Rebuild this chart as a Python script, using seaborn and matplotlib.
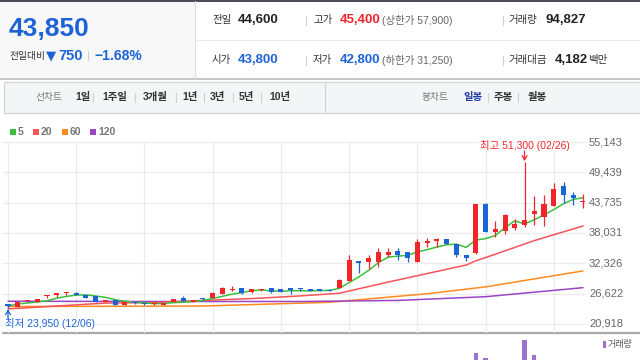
import numpy as np
import pandas as pd
import matplotlib
matplotlib.use("Agg")
import matplotlib.pyplot as plt
import matplotlib.transforms as mtransforms
from matplotlib.patches import Rectangle
import seaborn as sns

# ---------------- data ----------------
opens = [24650, 24100, 25150, 25050, 26100, 26350, 26700, 26700, 26350, 26200,
         25050, 25400, 24500, 24900, 24750, 24600, 24550, 25050, 25800, 25100,
         25650, 25850, 26550, 27250, 27650, 26850, 27250, 27650, 27450, 27650,
         27550, 27450, 27450, 27400, 27650, 29050, 32650, 32650, 32600, 33850,
         34650, 34400, 32650, 36100, 36500, 36850, 35950, 33900, 34200, 43500,
         38150, 38450, 39050, 39550, 41600, 41050, 43100, 46850, 45150, 43800]
highs = [24700, 25100, 25300, 25650, 26450, 26800, 26950, 26850, 26400, 26250,
         25500, 25450, 25050, 25000, 24850, 24950, 24900, 25700, 26150, 25450,
         25900, 26850, 27800, 28050, 27700, 27500, 27450, 27700, 27500, 27700,
         27750, 27500, 27500, 27450, 29450, 33900, 32850, 33800, 35150, 35200,
         35150, 34500, 36850, 37150, 37000, 36900, 36000, 33950, 43500, 43750,
         40350, 41600, 40650, 51300, 44950, 45100, 47450, 47600, 45700, 45400]
lows = [23950, 24050, 25100, 25000, 25800, 26000, 26450, 26300, 25800, 25050,
        25000, 24500, 24450, 24650, 24550, 24450, 24500, 25000, 25200, 25050,
        25400, 25800, 26500, 27200, 26600, 26800, 27200, 26800, 26900, 26550,
        27150, 27100, 27100, 27100, 27600, 29000, 30600, 31300, 31700, 33550,
        32950, 32650, 32600, 35450, 35450, 35900, 33550, 32800, 34150, 38250,
        37350, 37850, 38600, 39100, 39550, 39350, 43050, 43650, 43300, 42800]
closes = [24300, 25050, 25250, 25600, 26200, 26750, 26750, 26400, 25900, 25100,
          25450, 24550, 25000, 24800, 24650, 24700, 24850, 25650, 25250, 25400,
          25550, 26750, 27650, 27350, 26750, 27450, 27350, 26850, 26950, 27300,
          27450, 27150, 27150, 27150, 29200, 32950, 32450, 33250, 34400, 34450,
          33800, 33300, 36350, 36600, 36900, 35950, 33900, 33300, 43450, 38300,
          38800, 41400, 39650, 40500, 42250, 43450, 46300, 45150, 44600, 43850]
volumes = [180000, 210000, 150000, 170000, 190000, 220000, 160000, 150000, 170000, 200000,
           140000, 180000, 130000, 110000, 100000, 120000, 110000, 170000, 190000, 120000,
           130000, 220000, 300000, 250000, 200000, 160000, 120000, 170000, 130000, 150000,
           110000, 100000, 90000, 90000, 500000, 1200000, 700000, 500000, 700000, 500000,
           450000, 400000, 900000, 600000, 500000, 400000, 600000, 400000, 1850000, 1650000,
           900000, 1000000, 700000, 2400000, 1750000, 800000, 1100000, 700000, 300000, 94827]

ma20_idx = [0, 5, 10, 15, 20, 25, 30, 34, 39, 47, 48, 49, 54, 59]
ma20_val = [23750, 24300, 24850, 24950, 25350, 25700, 26200, 26700, 28800, 32000, 32800, 33400, 36600, 39350]
ma60_idx = [0, 20, 33, 43, 49, 54, 59]
ma60_val = [24200, 24300, 25000, 26600, 27900, 29400, 30900]
ma120_idx = [0, 15, 30, 40, 49, 59]
ma120_val = [25200, 25150, 25150, 25350, 26050, 27750]

y_ticks = [20918, 26622, 32326, 38031, 43735, 49439, 55143]
ma_names = ["5", "20", "60", "120"]
hi_date, lo_date = "02/26", "12/06"

price_now, change_abs, change_pct = "43,850", "750", "−1.68%"
prev_close, day_open, day_high, day_low = "44,600", "43,800", "45,400", "42,800"
upper_limit, lower_limit = "57,900", "31,250"
volume_today, value_today = "94,827", "4,182"
line_periods = ["1일", "1주일", "3개월", "1년", "3년", "5년", "10년"]
candle_periods = ["일봉", "주봉", "월봉"]

# ---------------- style ----------------
sns.set_theme(style="white")
plt.rcParams["font.family"] = ["Liberation Sans", "Noto Sans CJK KR", "DejaVu Sans"]

RED, BLUE = "#f0262b", "#1d63d8"
MA_COLORS = ["#3cbf3c", "#f4545a", "#ff8a1e", "#9b45c8"]
GRID = "#ebebeb"
W, H = 640, 360

fig = plt.figure(figsize=(6.4, 3.6), dpi=100)
fig.patch.set_facecolor("white")
bg = fig.add_axes([0, 0, 1, 1])
bg.set_xlim(0, W)
bg.set_ylim(H, 0)
bg.axis("off")


def px_ax(l, t, r, b):
    return fig.add_axes([l / W, 1 - b / H, (r - l) / W, (b - t) / H])


def sep(x, yc, h=10, color="#d0d0d0"):
    bg.plot([x, x], [yc - h / 2, yc + h / 2], color=color, lw=0.8)


# ---------------- header ----------------
bg.add_patch(Rectangle((0, 0), 195, 79, color="#f8f8f8", lw=0))
bg.plot([0, W], [0.7, 0.7], color="#474b57", lw=1.4)
bg.plot([0, W], [79, 79], color="#c6c6c6", lw=1.4)
bg.plot([195, 195], [1, 79], color="#dedede", lw=0.8)
bg.plot([195, W], [39.5, 39.5], color="#e8e8e8", lw=0.8)

bg.text(9, 29, price_now, fontsize=19, fontweight="bold", color=BLUE, va="center")
bg.text(10, 55.5, "전일대비", fontsize=7, color="#333333", va="center")
bg.text(45.5, 55.5, "▼", fontsize=9.5, color=BLUE, va="center", family=["DejaVu Sans"])
bg.text(58, 55.5, change_abs, fontsize=10.5, fontweight="bold", color=BLUE, va="center")
sep(88, 55.5, 9)
bg.text(94, 55.5, change_pct, fontsize=10, fontweight="bold", color=BLUE, va="center")

LBL = dict(fontsize=7.5, color="#333333", va="center")
VAL = dict(fontsize=9.5, fontweight="bold", va="center")
for yc, l1, v1, c1, l2, v2, c2, sub, l3, v3 in [
    (20, "전일", prev_close, "#222222", "고가", day_high, RED, "(상한가 " + upper_limit + ")", "거래량", volume_today),
    (60, "시가", day_open, BLUE, "저가", day_low, BLUE, "(하한가 " + lower_limit + ")", "거래대금", value_today),
]:
    bg.text(212, yc, l1, **LBL)
    bg.text(238, yc, v1, color=c1, **VAL)
    sep(306, yc, 9)
    bg.text(313, yc, l2, **LBL)
    bg.text(340, yc, v2, color=c2, **VAL)
    bg.text(382, yc, sub, fontsize=7.5, color="#666666", va="center")
    sep(503, yc, 9)
    bg.text(508, yc, l3, **LBL)
    bg.text(545 if l3 == "거래량" else 555, yc, v3, color="#222222", **VAL)
bg.text(588, 60, "백만", **LBL)

# ---------------- toolbar ----------------
bg.add_patch(Rectangle((4, 81.5), 640, 31.5, facecolor="#f4f5f7", edgecolor="#d4d4d4", lw=0.9))
bg.plot([324.5, 324.5], [81.5, 113], color="#d4d4d4", lw=0.9)
TY = 97
bg.text(35, TY, "선차트", fontsize=7, color="#777777", va="center")
lp_x = [75, 102, 143, 182, 210, 239, 269]
for i, (x, t) in enumerate(zip(lp_x, line_periods)):
    bg.text(x, TY, t, fontsize=7.5, color="#333333", fontweight="bold", va="center")
    if i < len(line_periods) - 1:
        sep([93, 135, 175.5, 204, 233, 261][i], TY, 9, "#d0d0d0")
bg.text(422, TY, "봉차트", fontsize=7, color="#777777", va="center")
cp_x = [463, 494, 528]
for i, (x, t) in enumerate(zip(cp_x, candle_periods)):
    bg.text(x, TY, t, fontsize=7.5, color="#1f3ea6" if i == 0 else "#333333",
            fontweight="bold", va="center")
    if i < 2:
        sep([488, 518][i], TY, 9, "#d0d0d0")

# ---------------- legend ----------------
for x, c, name in zip([10, 33, 62, 90], MA_COLORS, ma_names):
    bg.add_patch(Rectangle((x, 129), 6, 6, color=c, lw=0))
    bg.text(x + 8, 132.3, name, fontsize=7.5, color="#777777", fontweight="bold", va="center")

# ---------------- price chart ----------------
STEP = 9.75
ax = px_ax(3, 142, 585, 333)
ax.set_xlim(-5 / STEP, 59 + 2 / STEP)
ylo = y_ticks[0] - 9 * (y_ticks[-1] - y_ticks[0]) / 182
ax.set_ylim(ylo, y_ticks[-1])
ax.axis("off")

n = len(closes)
xs = np.arange(n)
for v in y_ticks:
    ax.axhline(v, color=GRID, lw=0.9, zorder=0, clip_on=False)
for i in range(0, n, 7):
    ax.axvline(i, color=GRID, lw=0.9, zorder=0)

trans = mtransforms.blended_transform_factory(ax.transAxes, ax.transData)
for v in y_ticks:
    ax.text((589 - 3) / 582, v, f"{v:,}", transform=trans, fontsize=8, color="#666666",
            va="center", ha="left", clip_on=False)

# moving averages
ma5 = pd.Series(closes, dtype=float).rolling(5, min_periods=1).mean()
ma_frames = [
    (xs, ma5.values),
    (np.array(ma20_idx), np.array(ma20_val)),
    (np.array(ma60_idx), np.array(ma60_val)),
    (np.array(ma120_idx), np.array(ma120_val)),
]
for (mx, my), c, z in zip(ma_frames, MA_COLORS, [4, 3, 2, 2]):
    sns.lineplot(x=mx, y=my, ax=ax, color=c, lw=1.1, estimator=None, legend=False, zorder=z)

# candles
o = np.array(opens, float); c = np.array(closes, float)
h = np.array(highs, float); l = np.array(lows, float)
cols = np.where(c >= o, RED, BLUE)
ax.vlines(xs, l, h, colors=cols, lw=0.9, zorder=5)
px_price = (y_ticks[-1] - y_ticks[0]) / 182
body_bot = np.minimum(o, c)
body_h = np.maximum(np.abs(c - o), 1.2 * px_price)
ax.bar(xs, body_h, bottom=body_bot, width=0.52, color=cols, lw=0, zorder=6)

# high / low annotations
ihi = int(np.argmax(h)); ilo = int(np.argmin(l))
ARROW = "->,head_width=0.15,head_length=0.25"
ax.annotate(f"최고 {int(h[ihi]):,} ({hi_date})", xy=(ihi, h[ihi]), xytext=(0, 12.5),
            textcoords="offset points", ha="center", va="center", fontsize=7.5, color=RED,
            bbox=dict(facecolor="white", edgecolor="none", pad=0.6), annotation_clip=False, zorder=8)
ax.annotate("", xy=(ihi, h[ihi]), xytext=(0, 8.2), textcoords="offset points",
            arrowprops=dict(arrowstyle=ARROW, color=RED, lw=0.9, shrinkA=0, shrinkB=1), zorder=8)
ax.annotate(f"최저 {int(l[ilo]):,} ({lo_date})", xy=(ilo, l[ilo]), xytext=(-2.4, -11.5),
            textcoords="offset points", ha="left", va="center", fontsize=7.5, color=BLUE,
            bbox=dict(facecolor="white", edgecolor="none", pad=0.6), annotation_clip=False, zorder=8)
ax.annotate("", xy=(ilo, l[ilo]), xytext=(0, -7.6), textcoords="offset points",
            arrowprops=dict(arrowstyle=ARROW, color=BLUE, lw=0.9, shrinkA=0, shrinkB=1), zorder=8)

# bottom border of price pane
bg.plot([3, W], [333, 333], color="#a9a9a9", lw=1.6)

# ---------------- volume pane ----------------
vax = px_ax(3, 337, 585, 397)
vax.set_xlim(-5 / STEP, 59 + 2 / STEP)
vax.set_ylim(0, 2526000)
vax.axis("off")
vax.bar(xs, volumes, width=0.45, color="#9d72cf", lw=0, zorder=3)
bg.add_patch(Rectangle((603, 340.5), 2.5, 7, color="#9d72cf", lw=0))
bg.text(607.5, 344, "거래량", fontsize=6.5, color="#555555", va="center")

fig.savefig("out.png", dpi=100, facecolor="white")
